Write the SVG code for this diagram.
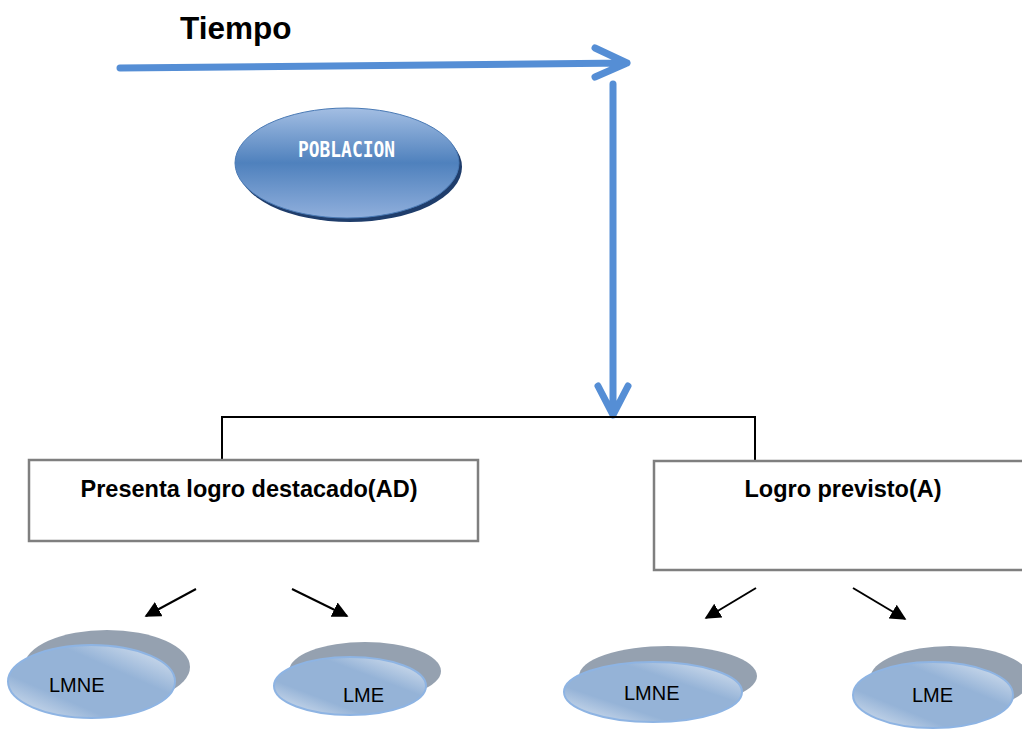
<svg xmlns="http://www.w3.org/2000/svg" width="1022" height="730" viewBox="0 0 1022 730">
<defs>
<style>
.box{fill:#fff;stroke:#7f7f7f;stroke-width:2.5}
.lbl{font-family:"Liberation Sans",Arial,sans-serif;font-weight:bold;font-size:23.5px;fill:#000}
.small{font-family:"Liberation Sans",Arial,sans-serif;font-size:20px;fill:#000}
.blue{fill:none;stroke:#558ed5;stroke-width:7;stroke-linecap:round;stroke-linejoin:round}
.thin{fill:none;stroke:#000;stroke-width:2}
.shadow{fill:#95a1b0}
.front{fill:url(#gFront);stroke:#8eb4e3;stroke-width:2}
</style>
<linearGradient id="gPob" x1="0" y1="0" x2="0" y2="1">
<stop offset="0" stop-color="#a3bee3"/>
<stop offset="0.5" stop-color="#4f81bd"/>
<stop offset="1" stop-color="#90afdc"/>
</linearGradient>
<linearGradient id="gFront" x1="0" y1="1" x2="1" y2="0">
<stop offset="0" stop-color="#e2eaf4"/>
<stop offset="0.3" stop-color="#95b3d7"/>
<stop offset="0.65" stop-color="#95b3d7"/>
<stop offset="1" stop-color="#e2eaf4"/>
</linearGradient>
<marker id="ah" viewBox="0 0 10 10" refX="9" refY="5" markerWidth="8" markerHeight="8" markerUnits="strokeWidth" orient="auto">
<path d="M0,0 L10,5 L0,10 z" fill="#000"/>
</marker>
</defs>
<text x="180" y="39" font-family="Liberation Sans, Arial, sans-serif" font-weight="bold" font-size="31.5">Tiempo</text>
<g id="connectors">
<path class="blue" d="M120,68 L627,63 M595,48 L627,63 L595,77"/>
<path class="blue" d="M613,84 L613,415 M598,386 L613,415 L628,386"/>
<path class="thin" d="M222,460 L222,417 L755,417 L755,460"/>
<line class="thin" x1="196" y1="589" x2="146" y2="616" marker-end="url(#ah)"/>
<line class="thin" x1="292" y1="589" x2="347" y2="616" marker-end="url(#ah)"/>
<line class="thin" x1="756" y1="588" x2="706" y2="618" marker-end="url(#ah)"/>
<line class="thin" x1="853" y1="588" x2="905" y2="619" marker-end="url(#ah)"/>
</g>
<g id="poblacion">
<ellipse cx="350" cy="167" rx="112" ry="55" fill="#1f3d6b"/>
<ellipse cx="347" cy="163" rx="112" ry="55" fill="url(#gPob)" stroke="#4a7ab5" stroke-width="1"/>
<text x="298" y="157" font-family="DejaVu Sans Mono, monospace" font-weight="bold" font-size="22" fill="#fff" textLength="97" lengthAdjust="spacingAndGlyphs">POBLACION</text>
</g>
<g id="ad">
<rect class="box" x="29" y="460" width="449" height="81"/>
<text class="lbl" x="249" y="497" text-anchor="middle">Presenta logro destacado(AD)</text>
</g>
<g id="a">
<rect class="box" x="654" y="461" width="380" height="109"/>
<text class="lbl" x="843" y="497" text-anchor="middle">Logro previsto(A)</text>
</g>
<g id="lmne1">
<ellipse class="shadow" cx="107" cy="667" rx="83" ry="37"/>
<ellipse class="front" cx="91.5" cy="681.5" rx="83.5" ry="36.5"/>
<text class="small" x="49" y="692">LMNE</text>
</g>
<g id="lme1">
<ellipse class="shadow" cx="365" cy="671" rx="76" ry="29"/>
<ellipse class="front" cx="350" cy="686" rx="76" ry="29"/>
<text class="small" x="343" y="702">LME</text>
</g>
<g id="lmne2">
<ellipse class="shadow" cx="668" cy="676" rx="89" ry="30"/>
<ellipse class="front" cx="653" cy="692" rx="89" ry="30"/>
<text class="small" x="624" y="700">LMNE</text>
</g>
<g id="lme2">
<ellipse class="shadow" cx="950" cy="679" rx="80" ry="33"/>
<ellipse class="front" cx="933" cy="695" rx="80" ry="33"/>
<text class="small" x="912" y="702">LME</text>
</g>
</svg>
